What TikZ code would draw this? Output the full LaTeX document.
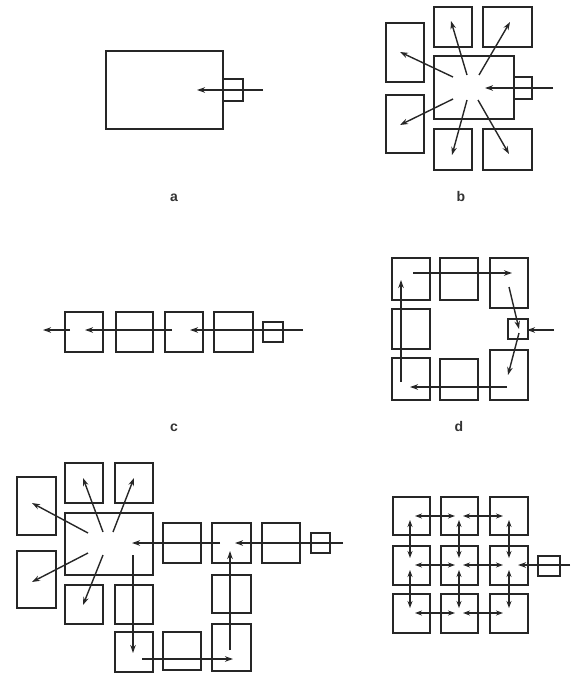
\documentclass[tikz,border=0pt]{standalone}
\usepackage{fontspec}
\setmainfont{Liberation Sans}
\usetikzlibrary{arrows.meta}
\tikzset{
  bx/.style={draw=black!85, line width=2pt, inner sep=0pt, outer sep=0pt},
  arr/.style={draw=black!85, line width=1.4pt, -{Stealth[length=8pt,width=5.5pt]}},
  darr/.style={draw=black!85, line width=1.4pt, {Stealth[length=7pt,width=5pt]}-{Stealth[length=7pt,width=5pt]}},
  lbl/.style={font=\fontsize{14}{16}\selectfont\bfseries, text=black!80, inner sep=0pt}
}
\newcommand\bx[5]{\node[bx, minimum width={(#4-#2)*1pt}, minimum height={(#5-#3)*1pt}] (#1) at ({(#2+#4)/2},{(#3+#5)/2}) {};}
\newcommand\ar[4][arr]{\coordinate (#2s) at (#3); \coordinate (#2e) at (#4); \draw[#1] (#2s) -- (#2e);}
\begin{document}
\begin{tikzpicture}[x=1pt,y=-1pt]
\useasboundingbox (0,0) rectangle (570,674);
% ---- a
\bx{aM}{106}{51}{223}{129}
\bx{aS}{223}{79}{243}{101}
\ar{a1}{263,90}{197,90}
\node[lbl] (la) at (174,198) {a};
% ---- b
\bx{bM}{434}{56}{514}{119}
\bx{bS}{514}{77}{532}{99}
\bx{bT1}{434}{7}{472}{47}
\bx{bT2}{483}{7}{532}{47}
\bx{bL1}{386}{23}{424}{82}
\bx{bL2}{386}{95}{424}{153}
\bx{bB1}{434}{129}{472}{170}
\bx{bB2}{483}{129}{532}{170}
\ar{b0}{553,88}{485,88}
\ar{b1}{467,75}{451,21}
\ar{b2}{479,75}{510,22}
\ar{b3}{453,77}{400,52}
\ar{b4}{453,99}{400,125}
\ar{b5}{467,100}{452,155}
\ar{b6}{478,100}{509,154}
\node[lbl] (lb) at (461,196) {b};
% ---- c
\bx{c1}{65}{312}{103}{352}
\bx{c2}{116}{312}{153}{352}
\bx{c3}{165}{312}{203}{352}
\bx{c4}{214}{312}{253}{352}
\bx{cS}{263}{322}{283}{342}
\ar{ca}{303,330}{190,330}
\ar{cb}{172,330}{85,330}
\ar{cc}{70,330}{43,330}
\node[lbl] (lc) at (174,428) {c};
% ---- d
\bx{dTL}{392}{258}{430}{300}
\bx{dTM}{440}{258}{478}{300}
\bx{dTR}{490}{258}{528}{308}
\bx{dML}{392}{309}{430}{349}
\bx{dBL}{392}{358}{430}{400}
\bx{dBM}{440}{359}{478}{400}
\bx{dBR}{490}{350}{528}{400}
\bx{dS}{508}{319}{528}{339}
\ar{d0}{554,330}{527,330}
\ar{d1}{509,287}{519,329}
\ar{d2}{519,333}{508,375}
\ar{d3}{507,387}{410,387}
\ar{d4}{401,382}{401,280}
\ar{d5}{413,273}{512,273}
\node[lbl] (ld) at (459,426) {d};
% ---- e
\bx{eM}{65}{513}{153}{575}
\bx{eT1}{65}{463}{103}{503}
\bx{eT2}{115}{463}{153}{503}
\bx{eL1}{17}{477}{56}{535}
\bx{eL2}{17}{551}{56}{608}
\bx{eB1}{65}{585}{103}{624}
\bx{eB2}{115}{585}{153}{624}
\bx{eR1}{163}{523}{201}{563}
\bx{eR2}{212}{523}{251}{563}
\bx{eR3}{262}{523}{300}{563}
\bx{eS}{311}{533}{330}{553}
\bx{eC1}{212}{575}{251}{613}
\bx{eC2}{212}{624}{251}{671}
\bx{eD1}{115}{632}{153}{672}
\bx{eD2}{163}{632}{201}{670}
\ar{e0}{343,543}{235,543}
\ar{e1}{220,543}{132,543}
\ar{e2}{103,532}{83,478}
\ar{e3}{113,532}{134,478}
\ar{e4}{88,533}{32,503}
\ar{e5}{88,553}{32,582}
\ar{e6}{103,555}{83,605}
\ar{e7}{133,555}{133,653}
\ar{e8}{142,659}{233,659}
\ar{e9}{230,650}{230,551}
% ---- f
\bx{f11}{393}{497}{430}{535}
\bx{f12}{441}{497}{478}{535}
\bx{f13}{490}{497}{528}{535}
\bx{f21}{393}{546}{430}{585}
\bx{f22}{441}{546}{478}{585}
\bx{f23}{490}{546}{528}{585}
\bx{f31}{393}{594}{430}{633}
\bx{f32}{441}{594}{478}{633}
\bx{f33}{490}{594}{528}{633}
\bx{fS}{538}{556}{560}{576}
\ar{f0}{570,565}{518,565}
\ar[darr]{fh11}{415,516}{455,516}
\ar[darr]{fh12}{463,516}{503,516}
\ar[darr]{fh21}{415,565}{455,565}
\ar[darr]{fh22}{463,565}{503,565}
\ar[darr]{fh31}{415,613}{455,613}
\ar[darr]{fh32}{463,613}{503,613}
\ar[darr]{fv11}{410,520}{410,558}
\ar[darr]{fv12}{410,570}{410,608}
\ar[darr]{fv21}{459,520}{459,558}
\ar[darr]{fv22}{459,570}{459,608}
\ar[darr]{fv31}{509,520}{509,558}
\ar[darr]{fv32}{509,570}{509,608}
\end{tikzpicture}
\end{document}
